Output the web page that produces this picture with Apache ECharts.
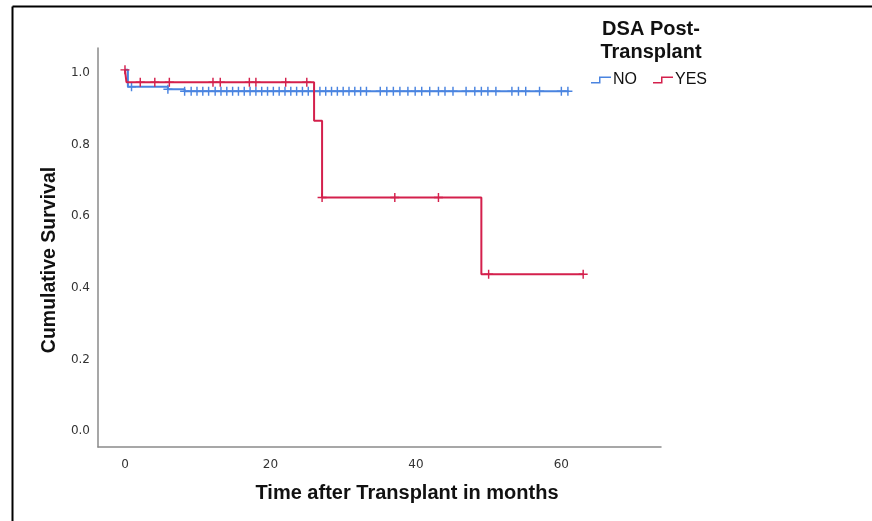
<!DOCTYPE html>
<html>
<head>
<meta charset="utf-8">
<script src="https://cdn.jsdelivr.net/npm/echarts@6/dist/echarts.min.js"></script>
<style>
html,body{margin:0;padding:0;background:#fff;}
#chart{width:872px;height:521px;}
</style>
</head>
<body>
<div id="chart"></div>
<script>
// Kaplan-Meier step data (time in months, cumulative survival after event)
const noTimes = [0, 0.4, 5.9, 8.2, 61.0];
const noSurv  = [1.0, 0.953, 0.946, 0.940, 0.940];
const yesTimes = [0, 0.2, 26.0, 27.1, 49.0, 63.0];
const yesSurv  = [1.0, 0.9655, 0.858, 0.6437, 0.4291, 0.4291];
// censored observations (months)
const noCensor = [0.9, 5.9, 8.2, 9.1, 9.9, 10.7, 11.5, 12.4, 13.2, 14.0, 14.8, 15.6, 16.4, 17.2, 18.0, 18.8,
  19.6, 20.4, 21.2, 22.0, 22.8, 23.6, 24.4, 25.2, 26.0, 26.8, 27.6, 28.4, 29.2, 30.0, 30.8, 31.6, 32.4, 33.2,
  35.1, 36.0, 36.9, 37.8, 38.9, 39.9, 40.8, 41.9, 43.1, 44.0, 45.1, 46.9, 48.1, 49.0, 49.9, 51.0, 53.2, 54.1,
  55.1, 57.0, 60.0, 60.9];
const yesCensor = [0, 2.1, 4.1, 6.1, 12.1, 13.1, 17.1, 18.0, 22.1, 25.0, 27.1, 37.1, 43.1, 50.0, 63.0];
const groupNames = ['NO', 'YES'];
const legendTitle = 'DSA Post-\nTransplant';
const xTickLabels = [0, 20, 40, 60];
const yTickLabels = [0.0, 0.2, 0.4, 0.6, 0.8, 1.0];

const blue = '#4a84e0';
const red = '#d4204c';
const sans = 'Liberation Sans, Arial, sans-serif';

function stepValue(times, surv, t) {
  let v = surv[0];
  for (let i = 0; i < times.length; i++) { if (times[i] <= t) v = surv[i]; }
  return v;
}
const noLine = noTimes.map((t, i) => [t, noSurv[i]]);
const yesLine = yesTimes.map((t, i) => [t, yesSurv[i]]);
const noMarks = noCensor.map(t => [t, stepValue(noTimes, noSurv, t)]);
const yesMarks = yesCensor.map(t => [t, stepValue(yesTimes, yesSurv, t)]);

const plus = 'path://M-0.16,-1 L0.16,-1 L0.16,-0.16 L1,-0.16 L1,0.16 L0.16,0.16 L0.16,1 L-0.16,1 L-0.16,0.16 L-1,0.16 L-1,-0.16 L-0.16,-0.16 Z';
const stepIcon = 'path://M0,5.5 L8,5.5 L8,0 L20,0 L20,1.5 L9.5,1.5 L9.5,7 L0,7 Z';

const chart = echarts.init(document.getElementById('chart'), null, {renderer: 'canvas'});
chart.setOption({
  animation: false,
  backgroundColor: '#ffffff',
  textStyle: {fontFamily: sans},
  legend: {
    data: groupNames.map(n => ({name: n, icon: stepIcon})),
    left: 586, top: 67, itemWidth: 20, itemHeight: 7, itemGap: 16,
    textStyle: {fontSize: 16, color: '#111', padding: [0, 0, 0, -3], fontFamily: sans}
  },
  graphic: [
    {type: 'line', shape: {x1: 12.5, y1: 6.5, x2: 872, y2: 6.5}, style: {stroke: '#000', lineWidth: 2}, silent: true},
    {type: 'line', shape: {x1: 12.5, y1: 6.5, x2: 12.5, y2: 521}, style: {stroke: '#000', lineWidth: 2}, silent: true},
    {type: 'text', x: 651, y: 18, silent: true,
      style: {text: legendTitle, textAlign: 'center', textVerticalAlign: 'top', fill: '#111',
        font: 'bold 20px Liberation Sans, Arial, sans-serif', lineHeight: 23}}
  ],
  grid: {left: 98, top: 48, width: 563, height: 399, containLabel: false},
  xAxis: {
    type: 'value', min: -3.71, max: 73.7,
    name: 'Time after Transplant in months', nameLocation: 'middle', nameGap: 36,
    nameTextStyle: {fontSize: 20, fontWeight: 'bold', color: '#111', fontFamily: sans, padding: [0, 0, 0, 55]},
    axisLine: {onZero: false, lineStyle: {color: '#8a8a8a', width: 1.5}},
    axisTick: {show: false},
    splitLine: {show: false},
    axisLabel: {customValues: xTickLabels, color: '#333', fontSize: 12, margin: 12, fontFamily: 'DejaVu Sans, sans-serif'}
  },
  yAxis: {
    type: 'value', min: -0.053, max: 1.061,
    name: 'Cumulative Survival', nameLocation: 'middle', nameGap: 35, nameRotate: 90,
    nameTextStyle: {fontSize: 19.5, fontWeight: 'bold', color: '#111', fontFamily: sans, padding: [0, 25, 0, 0]},
    axisLine: {show: true, onZero: false, lineStyle: {color: '#8a8a8a', width: 1.5}},
    axisTick: {show: false},
    splitLine: {show: false},
    axisLabel: {customValues: yTickLabels, color: '#333', fontSize: 12, margin: 8,
      verticalAlign: 'top', lineHeight: 6,
      formatter: v => v.toFixed(1), fontFamily: 'DejaVu Sans, sans-serif'}
  },
  series: [
    {name: 'NO', type: 'line', step: 'end', data: noLine, showSymbol: false, symbol: 'none',
      lineStyle: {color: blue, width: 2}, itemStyle: {color: blue}, z: 2},
    {name: 'NO', type: 'scatter', data: noMarks, symbol: plus, symbolSize: 9,
      itemStyle: {color: blue, opacity: 1}, z: 3},
    {name: 'YES', type: 'line', step: 'end', data: yesLine, showSymbol: false, symbol: 'none',
      lineStyle: {color: red, width: 2}, itemStyle: {color: red}, z: 4},
    {name: 'YES', type: 'scatter', data: yesMarks, symbol: plus, symbolSize: 9,
      itemStyle: {color: red, opacity: 1}, z: 5}
  ]
});
</script>
</body>
</html>
